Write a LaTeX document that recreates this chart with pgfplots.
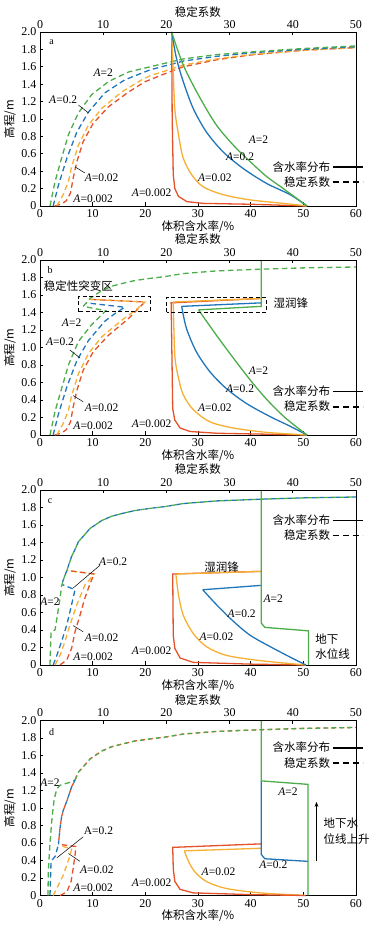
\documentclass[border=0pt]{standalone}
\usepackage{fontspec}
\setmainfont{Liberation Serif}
\newfontfamily\cjk{Noto Sans CJK SC}
\usepackage{pgfplots}
\pgfplotsset{compat=1.18}
\usetikzlibrary{arrows.meta}
\definecolor{cG}{RGB}{76,173,74}
\definecolor{cB}{RGB}{33,118,186}
\definecolor{cO}{RGB}{245,176,52}
\definecolor{cR}{RGB}{228,82,42}
\newcommand{\fs}{\fontsize{12}{14}\selectfont}
\newcommand{\fa}{\fontsize{11.5}{13}\selectfont}
\newcommand{\A}[1]{\textit{A}=#1}
\pgfplotsset{
  legend image code/.code={\draw[#1] (0pt,0pt) -- (30pt,0pt);},
  panelstyle/.style={
    width=316pt, scale only axis, xmin=0, xmax=60, ymin=0, ymax=2, clip=false,
    xtick={0,10,20,30,40,50,60}, xticklabels={0,10,20,30,40,50,60},
    ytick={0,0.2,0.4,0.6,0.8,1.0,1.2,1.4,1.6,1.8,2.0},
    yticklabels={0,0.2,0.4,0.6,0.8,1.0,1.2,1.4,1.6,1.8,2.0},
    xtick pos=bottom, ytick pos=left, tick align=inside, major tick length=3.5pt,
    axis line style={line width=0.8pt}, every tick/.style={black, line width=0.7pt},
    ticklabel style={font=\fs}, /pgf/number format/assume math mode=true,
    xlabel={\cjk 体积含水率/\%}, ylabel={\cjk 高程/m},
    label style={font=\fa},
    xlabel style={at={(axis description cs:0.5,-0.064)}, anchor=north},
    ylabel style={at={(axis description cs:-0.066,0.5)}, anchor=south},
    legend plot pos=right, legend cell align=right,
    legend style={draw=none, fill=none, font=\fa, inner sep=0pt, row sep=0pt, anchor=east},
    legend entries={{\cjk 含水率分布},{\cjk 稳定系数}},
  },
  topstyle/.style={
    width=316pt, scale only axis, xmin=0, xmax=50, ymin=0, ymax=2,
    axis x line*=top, axis y line=none,
    xtick={0,10,20,30,40,50}, xticklabels={0,10,20,30,40,50},
    tick align=inside, major tick length=3.5pt,
    axis line style={line width=0.8pt}, every tick/.style={black, line width=0.7pt},
    ticklabel style={font=\fs},
    xlabel={\cjk 稳定系数}, label style={font=\fa},
    xlabel style={at={(axis description cs:0.5,1.066)}, anchor=south},
  },
  sol/.style={line width=1.3pt},
  das/.style={line width=1.3pt, dash pattern=on 5.5pt off 3.5pt},
  alt/.style={line width=1.3pt, dash pattern=on 4pt off 4pt},
  alt2/.style={line width=1.3pt, dash pattern=on 4pt off 4pt, dash phase=4pt},
}
\begin{document}
\begin{tikzpicture}[every node/.append style={font=\fa}]
\path[use as bounding box] (0pt,0pt) rectangle (373pt,928pt);

% ================= panel a =================
\begin{axis}[panelstyle, at={(40pt,722pt)}, anchor=south west, height=174pt,
  legend style={at={(axis cs:61.5,0.36)}}]
\addlegendimage{black, line width=1.6pt}
\addlegendimage{black, line width=1.6pt, dash pattern=on 6pt off 4pt}
% stability (dashed)
\addplot[cR, das] coordinates {(2.8,0) (4.0,0.02) (5.0,0.06) (5.8,0.15) (6.3,0.32) (7.0,0.51) (8.2,0.74) (10.1,0.95) (13.0,1.14) (16.8,1.31) (20,1.43) (23.7,1.52) (27.2,1.60) (33.5,1.68) (39.9,1.735) (50,1.79) (60,1.82)};
\addplot[cO, das] coordinates {(3.2,0) (4.4,0.13) (5.4,0.28) (6.0,0.45) (7.3,0.70) (9.2,0.93) (11.7,1.12) (15.5,1.31) (19.3,1.45) (21,1.50) (23.7,1.55) (27.2,1.62) (33.5,1.69) (39.9,1.74) (50,1.79) (60,1.82)};
\addplot[cB, das] coordinates {(2.5,0) (3.5,0.24) (5.1,0.55) (7.0,0.85) (9.2,1.08) (12.3,1.30) (16.1,1.45) (20.9,1.565) (23.7,1.61) (27.2,1.665) (33.5,1.72) (39.9,1.76) (50,1.80) (60,1.83)};
\addplot[cG, das] coordinates {(1.9,0) (2.85,0.28) (4.1,0.55) (5.4,0.82) (7.3,1.07) (9.8,1.28) (13,1.43) (16.8,1.54) (20.9,1.60) (23.7,1.64) (27.2,1.69) (33.5,1.74) (39.9,1.77) (50,1.81) (60,1.84)};
% water content (solid)
\addplot[cR, sol] coordinates {(25,2.0) (25.1,1.0) (25.3,0.36) (25.6,0.20) (26.3,0.11) (27.9,0.05) (31.0,0.03) (39.9,0.02) (50.7,0)};
\addplot[cO, sol, smooth, tension=0.5] coordinates {(25,2.0) (25.2,1.70) (25.6,1.12) (26.3,0.82) (27.2,0.55) (28.8,0.36) (31.0,0.22) (34.8,0.13) (39.9,0.07) (46.2,0.03) (50.7,0)};
\addplot[cB, sol, smooth, tension=0.5] coordinates {(25,2.0) (25.9,1.70) (27.2,1.43) (29.1,1.12) (31.6,0.85) (34.8,0.62) (38.6,0.43) (43.0,0.26) (47.5,0.13) (50.7,0)};
\addplot[cG, sol, smooth, tension=0.5] coordinates {(25,2.0) (27.2,1.62) (30.4,1.24) (33.5,0.93) (36.7,0.70) (39.9,0.51) (43.0,0.34) (46.2,0.20) (50.7,0)};
\node[font=\fontsize{10}{12}\selectfont] at (axis cs:2.2,1.88) {a};
\node at (axis cs:12.0,1.53) {\A{2}};
\node at (axis cs:4.4,1.22) {\A{0.2}};
\draw[line width=0.5pt] (axis cs:7.3,1.16) -- (axis cs:9.2,1.07);
\node at (axis cs:11.7,0.32) {\A{0.02}};
\draw[line width=0.5pt] (axis cs:8.5,0.38) -- (axis cs:6.65,0.45);
\node at (axis cs:10.1,0.08) {\A{0.002}};
\node at (axis cs:21.2,0.15) {\A{0.002}};
\node at (axis cs:41.5,0.76) {\A{2}};
\node at (axis cs:38.0,0.57) {\A{0.2}};
\node at (axis cs:33.2,0.32) {\A{0.02}};
\end{axis}
\begin{axis}[topstyle, at={(40pt,722pt)}, anchor=south west, height=174pt]
\end{axis}

% ================= panel b =================
\begin{axis}[panelstyle, at={(40pt,493pt)}, anchor=south west, height=175pt,
  legend style={at={(axis cs:61.5,0.41)}}]
\addlegendimage{black, line width=1.6pt}
\addlegendimage{black, line width=1.6pt, dash pattern=on 6pt off 4pt}
\addplot[cR, das] coordinates {(2.8,0) (4.0,0.02) (5.0,0.06) (5.8,0.15) (6.3,0.32) (7.0,0.51) (8.2,0.74) (10.1,0.95) (13.0,1.14) (16.8,1.33) (19.9,1.52) (9.4,1.55)};
\addplot[cO, das] coordinates {(3.2,0) (4.4,0.13) (5.4,0.28) (6.0,0.45) (7.3,0.70) (9.2,0.93) (11.7,1.12) (15.5,1.31) (18.2,1.43) (19.9,1.52) (9.4,1.55)};
\addplot[cB, das] coordinates {(2.5,0) (3.5,0.24) (5.1,0.55) (7.0,0.85) (9.2,1.08) (12.3,1.30) (14.5,1.40) (16.1,1.46) (8.8,1.51)};
\addplot[cG, das] coordinates {(1.9,0) (2.85,0.27) (4.1,0.53) (5.4,0.80) (7.3,1.07) (9.8,1.26) (12.0,1.39) (12.5,1.42) (8.2,1.47)};
\addplot[cG, das] coordinates {(8.2,1.47) (9.5,1.56) (11.7,1.65) (13.6,1.70) (15.5,1.73) (18,1.765) (20.9,1.79) (23.7,1.81) (27.2,1.845) (33.5,1.875) (42,1.895) (50,1.91) (60,1.92)};
\addplot[cR, sol] coordinates {(42,1.56) (24.9,1.51) (25.2,0.30) (25.6,0.17) (26.6,0.08) (28.5,0.04) (33.5,0.02) (50.7,0)};
\addplot[cO, sol] coordinates {(42,1.56) (25.3,1.52)};
\addplot[cO, sol, smooth, tension=0.5] coordinates {(25.3,1.52) (25.6,0.91) (26.3,0.65) (27.2,0.46) (29.1,0.29) (32.3,0.15) (36.7,0.08) (43,0.03) (50.7,0)};
\addplot[cB, sol] coordinates {(42,1.51) (26.9,1.47)};
\addplot[cB, sol, smooth, tension=0.5] coordinates {(26.9,1.47) (27.8,1.22) (29.7,0.95) (32.3,0.72) (35.4,0.53) (39.2,0.36) (43.7,0.21) (47.5,0.10) (50.7,0)};
\addplot[cG, sol] coordinates {(42,2.0) (42,1.47) (30.1,1.43)};
\addplot[cG, sol, smooth, tension=0.5] coordinates {(30.1,1.43) (33.5,1.14) (36.7,0.88) (39.9,0.63) (43.0,0.41) (46.5,0.20) (50.7,0)};
\draw[line width=0.8pt, dash pattern=on 4pt off 2.5pt] (axis cs:7.3,1.41) rectangle (axis cs:20.9,1.585);
\draw[line width=0.8pt, dash pattern=on 4pt off 2.5pt] (axis cs:24.05,1.40) rectangle (axis cs:43.0,1.57);
\node[font=\fontsize{10}{12}\selectfont] at (axis cs:1.9,1.89) {b};
\node at (axis cs:7.3,1.70) {\cjk 稳定性突变区};
\node[anchor=west] at (axis cs:43.7,1.505) {\cjk 湿润锋};
\node at (axis cs:6.0,1.28) {\A{2}};
\node at (axis cs:3.8,1.07) {\A{0.2}};
\draw[line width=0.5pt] (axis cs:5.7,0.97) -- (axis cs:7.6,0.88);
\node at (axis cs:11.7,0.31) {\A{0.02}};
\draw[line width=0.5pt] (axis cs:8.2,0.38) -- (axis cs:6.3,0.45);
\node at (axis cs:10.1,0.10) {\A{0.002}};
\node at (axis cs:21.2,0.13) {\A{0.002}};
\node at (axis cs:41.5,0.74) {\A{2}};
\node at (axis cs:38.0,0.53) {\A{0.2}};
\node at (axis cs:33.2,0.31) {\A{0.02}};
\end{axis}
\begin{axis}[topstyle, at={(40pt,493pt)}, anchor=south west, height=175pt]
\end{axis}

% ================= panel c =================
\begin{axis}[panelstyle, at={(40pt,263pt)}, anchor=south west, height=175pt,
  legend style={at={(axis cs:61.5,1.565)}}]
\addlegendimage{black, line width=1.6pt}
\addlegendimage{black, line width=1.6pt, dash pattern=on 6pt off 4pt}
\addplot[cO, das] coordinates {(2.85,0) (3.8,0.11) (4.75,0.27) (5.7,0.46) (7.0,0.69) (8.5,0.91) (10.3,1.04) (5.1,1.08)};
\addplot[cR, das] coordinates {(3.8,0) (5.1,0.06) (6.0,0.19) (6.65,0.38) (7.6,0.57) (8.5,0.76) (9.5,0.93) (10.3,1.04) (5.1,1.08)};
\addplot[cB, das] coordinates {(2.5,0) (3.2,0.11) (4.1,0.27) (5.1,0.46) (6.0,0.69) (6.65,0.86) (4.2,0.92)};
\addplot[cG, das] coordinates {(1.9,0) (2.0,0.2) (2.1,0.38) (2.85,0.40) (3.2,0.53) (3.8,0.76) (4.1,0.90)};
\addplot[cB, alt2] coordinates {(4.1,0.90) (4.4,0.97) (5.1,1.08) (6.0,1.24) (6.65,1.32) (7.3,1.41) (8.2,1.47) (9.5,1.56) (11.7,1.65) (13.6,1.70) (15.5,1.73) (18,1.765) (20.9,1.79) (23.7,1.81) (27.2,1.845) (33.5,1.875) (42,1.895) (50,1.91) (60,1.92)};
\addplot[cG, alt] coordinates {(4.1,0.90) (4.4,0.97) (5.1,1.08) (6.0,1.24) (6.65,1.32) (7.3,1.41) (8.2,1.47) (9.5,1.56) (11.7,1.65) (13.6,1.70) (15.5,1.73) (18,1.765) (20.9,1.79) (23.7,1.81) (27.2,1.845) (33.5,1.875) (42,1.895) (50,1.91) (60,1.92)};
\addplot[cR, sol] coordinates {(42,1.07) (25.2,1.04) (25.3,0.34) (25.6,0.19) (26.6,0.08) (29.1,0.03) (39.9,0.01) (50.5,0)};
\addplot[cO, sol] coordinates {(42,1.07) (25.8,1.04)};
\addplot[cO, sol, smooth, tension=0.5] coordinates {(25.8,1.04) (26.3,0.80) (27.2,0.57) (29.1,0.36) (31.6,0.21) (35.4,0.11) (41.8,0.05) (50.5,0)};
\addplot[cB, sol] coordinates {(42,0.91) (30.9,0.86)};
\addplot[cB, sol, smooth, tension=0.5] coordinates {(30.9,0.86) (33.5,0.69) (36.7,0.50) (39.9,0.34) (43.7,0.21) (47.5,0.09) (50.5,0)};
\addplot[cG, sol] coordinates {(42,2.0) (42,0.48) (42.7,0.43) (51.0,0.39) (51.0,0)};
\node[font=\fontsize{10}{12}\selectfont] at (axis cs:1.9,1.87) {c};
\node at (axis cs:13.9,1.18) {\A{0.2}};
\draw[line width=0.5pt] (axis cs:11.4,1.14) -- (axis cs:6.3,0.88);
\node at (axis cs:1.9,0.72) {\A{2}};
\node at (axis cs:11.7,0.31) {\A{0.02}};
\draw[line width=0.5pt] (axis cs:8.2,0.38) -- (axis cs:6.3,0.45);
\node at (axis cs:10.1,0.09) {\A{0.002}};
\node at (axis cs:21.2,0.16) {\A{0.002}};
\node at (axis cs:34.5,1.12) {\cjk 湿润锋};
\node at (axis cs:44.3,0.76) {\A{2}};
\node at (axis cs:38.3,0.59) {\A{0.2}};
\node at (axis cs:33.5,0.32) {\A{0.02}};
\node[anchor=west] at (axis cs:51.6,0.29) {\cjk 地下};
\node[anchor=west] at (axis cs:51.6,0.12) {\cjk 水位线};
\end{axis}
\begin{axis}[topstyle, at={(40pt,263pt)}, anchor=south west, height=175pt]
\end{axis}

% ================= panel d =================
\begin{axis}[panelstyle, at={(40pt,32.5pt)}, anchor=south west, height=175pt,
  legend style={at={(axis cs:61.5,1.60)}}]
\addlegendimage{black, line width=1.6pt}
\addlegendimage{black, line width=1.6pt, dash pattern=on 6pt off 4pt}
\addplot[cO, das] coordinates {(2.5,0) (3.5,0.12) (4.4,0.23) (5.1,0.35) (5.7,0.46) (6.0,0.53) (3.6,0.575)};
\addplot[cR, das] coordinates {(3.8,0) (5.1,0.04) (5.9,0.16) (6.3,0.31) (6.65,0.46) (6.8,0.56) (3.5,0.585)};
\addplot[cB, das] coordinates {(1.9,0) (2.0,0.2) (2.1,0.39) (2.9,0.45) (3.5,0.585)};
\addplot[cG, das] coordinates {(1.5,0) (1.6,0.3) (1.9,0.6) (2.3,0.9) (2.7,1.1) (3.2,1.22) (3.8,1.26) (5.5,1.29) (6.65,1.32)};
\addplot[cR, alt2] coordinates {(3.5,0.585) (3.8,0.77) (4.1,0.90) (4.4,0.97) (5.1,1.08) (6.0,1.24) (6.65,1.32) (7.3,1.41) (8.2,1.47) (9.5,1.56) (11.7,1.65) (13.6,1.70) (15.5,1.73) (18,1.765) (20.9,1.79) (23.7,1.81) (27.2,1.845) (33.5,1.875) (42,1.895) (50,1.91) (60,1.92)};
\addplot[cB, alt] coordinates {(3.5,0.585) (3.8,0.77) (4.1,0.90) (4.4,0.97) (5.1,1.08) (6.0,1.24) (6.65,1.32)};
\addplot[cG, alt] coordinates {(6.65,1.32) (7.3,1.41) (8.2,1.47) (9.5,1.56) (11.7,1.65) (13.6,1.70) (15.5,1.73) (18,1.765) (20.9,1.79) (23.7,1.81) (27.2,1.845) (33.5,1.875) (42,1.895) (50,1.91) (60,1.92)};
\addplot[cO, sol] coordinates {(42,0.54) (27.4,0.51)};
\addplot[cO, sol, smooth, tension=0.5] coordinates {(27.4,0.51) (28.2,0.39) (29.4,0.27) (31.6,0.16) (35.4,0.08) (41.8,0.03) (50.5,0)};
\addplot[cR, sol] coordinates {(42,0.59) (25.2,0.55) (25.3,0.31) (25.6,0.16) (26.6,0.07) (29.1,0.03) (39.9,0.01) (50.5,0)};
\addplot[cB, sol] coordinates {(42,1.31) (42,0.47) (42.7,0.42) (50.9,0.39)};
\addplot[cG, sol] coordinates {(42,2.0) (42,1.31) (50.9,1.27) (50.9,0)};
\node[font=\fontsize{10}{12}\selectfont] at (axis cs:2.2,1.87) {d};
\node at (axis cs:1.9,1.29) {\A{2}};
\node at (axis cs:11.1,0.74) {A=0.2};
\draw[line width=0.5pt] (axis cs:8.2,0.67) -- (axis cs:3.2,0.43);
\node at (axis cs:10.8,0.29) {\A{0.02}};
\draw[line width=0.5pt] (axis cs:7.6,0.39) -- (axis cs:5.4,0.48);
\node at (axis cs:10.1,0.09) {\A{0.002}};
\node at (axis cs:21.2,0.14) {\A{0.002}};
\node at (axis cs:33.9,0.27) {\A{0.02}};
\node at (axis cs:47.1,1.19) {\A{2}};
\node at (axis cs:44.3,0.35) {\A{0.2}};
\draw[line width=0.6pt, -{Stealth[length=5pt]}] (axis cs:52.5,0.39) -- (axis cs:52.5,1.07);
\node[anchor=west] at (axis cs:53.2,0.83) {\cjk 地下水};
\node[anchor=west] at (axis cs:53.2,0.65) {\cjk 位线上升};
\end{axis}
\begin{axis}[topstyle, at={(40pt,32.5pt)}, anchor=south west, height=175pt]
\end{axis}
\end{tikzpicture}
\end{document}
